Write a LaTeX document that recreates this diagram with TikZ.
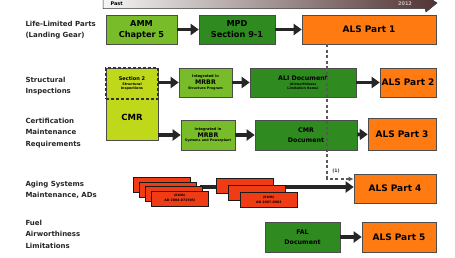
\documentclass[tikz,border=0pt]{standalone}
\usepackage{fontspec}
\setmainfont{DejaVu Sans}
\usetikzlibrary{arrows.meta}
\definecolor{lgreen}{HTML}{78BC2A}
\definecolor{dgreen}{HTML}{2F8B20}
\definecolor{ygreen}{HTML}{C0D81A}
\definecolor{orng}{HTML}{FF7A10}
\definecolor{redbx}{HTML}{F03C14}
\newcommand{\fs}[1]{\fontsize{#1}{#1}\selectfont}
\tikzset{
  bx/.style={draw=black!70, line width=0.6pt, inner sep=0pt, align=center, font=\bfseries\fontsize{3.5}{4}\selectfont, text=black},
  lg/.style={bx, fill=lgreen},
  dg/.style={bx, fill=dgreen},
  og/.style={bx, fill=orng, font=\bfseries\fs{9}},
  rb/.style={bx, fill=redbx, draw=black!90, minimum width=57pt, minimum height=15pt},
  blk/.style={draw=black!85, line width=3.6pt, -{Triangle[length=8pt,width=11pt]}},
  dsh/.style={draw=black!65, line width=1.4pt, dash pattern=on 3pt off 2.5pt},
  lab/.style={anchor=west, align=left, font=\bfseries\fontsize{7}{11.5}\selectfont, text=black!85}
}
\begin{document}
\begin{tikzpicture}[x=1pt,y=-1pt]
\useasboundingbox (0,0) rectangle (455,257);
% timeline
\shade[left color=white!92!gray, right color=black!80!red!60!gray, draw=black!80, line width=0.5pt]
  (103,-3) -- (425,-3) -- (425,-5) -- (437,3) -- (426,12) -- (425,8.5) -- (103,8.5) -- cycle;
\node[anchor=west, font=\bfseries\fs{5}, text=black] (past) at (107,4) {Past};
\node[font=\bfseries\fs{5}, text=black!25] (yr) at (405,3.5) {2012};
% left labels
\node[lab] (l1) at (22,30) {Life-Limited Parts\\(Landing Gear)};
\node[lab] (l2) at (22,86) {Structural\\Inspections};
\node[lab] (l3) at (22,133) {Certification\\Maintenance\\Requirements};
\node[lab] (l4) at (22,190) {Aging Systems\\Maintenance, ADs};
\node[lab] (l5) at (22,234) {Fuel\\Airworthiness\\Limitations};
% row 1
\node[lg, minimum width=71pt, minimum height=29pt, font=\bfseries\fontsize{8.2}{11}\selectfont] (amm) at (141.5,29.5) {AMM\\Chapter 5};
\node[dg, minimum width=76pt, minimum height=29pt, font=\bfseries\fontsize{8.2}{11}\selectfont] (mpd) at (237,29.5) {MPD\\Section 9-1};
\node[og, minimum width=134pt, minimum height=29pt] (als1) at (369,29.5) {ALS Part 1};
% row 2/3 CMR block
\node[bx, fill=ygreen, minimum width=52pt, minimum height=72pt] (cmr) at (132,104) {};
\node[bx, draw=black!80, line width=1.3pt, dash pattern=on 3pt off 2pt, minimum width=52pt, minimum height=31pt] (sec2) at (132,83.5)
  {{\fs{5}Section 2}\\[0.5pt]{\fs{3.4}Structural}\\{\fs{3.4}Inspections}};
\node[font=\bfseries\fs{8.5}, text=black] (cmrt) at (132,117) {CMR};
\node[lg, minimum width=53pt, minimum height=29pt] (mrbr1) at (205.5,82.5)
  {{\fs{3.6}Integrated in}\\[0.5pt]{\fs{6.3}MRBR}\\[0.3pt]{\fs{3.3}Structure Program}};
\node[dg, minimum width=106pt, minimum height=29pt] (ali) at (303,82.5)
  {{\fs{6.3}ALI Document}\\[1pt]{\fs{3.2}(Airworthiness}\\{\fs{3.2}Limitation Items)}};
\node[og, minimum width=56pt, minimum height=29pt] (als2) at (408,82.5) {ALS Part 2};
% row 3
\node[lg, minimum width=54pt, minimum height=30pt] (mrbr2) at (208,135)
  {{\fs{3.6}Integrated in}\\[0.5pt]{\fs{6.3}MRBR}\\[0.3pt]{\fs{3.3}Systems and Powerplant}};
\node[dg, minimum width=102pt, minimum height=30pt, font=\bfseries\fontsize{6.3}{9.5}\selectfont] (cmrdoc) at (306,135) {CMR\\Document};
\node[og, minimum width=68pt, minimum height=32pt] (als3) at (402,134) {ALS Part 3};
% row 4
\node[og, minimum width=82pt, minimum height=29pt] (als4) at (395,188.5) {ALS Part 4};
\coordinate (agst) at (200,187);
\draw[blk] (agst) -- (als4.west |- agst);
\node[rb, anchor=north west] (r1a) at (133,177) {};
\node[rb, anchor=north west] (r1b) at (139,181.5) {};
\node[rb, anchor=north west] (r1c) at (145,186) {};
\node[rb, anchor=north west] (r1d) at (151,190.5) {{\fs{3}(EWIS)}\\[0.8pt]{\fs{3.2}AD 2004-0729(R)}};
\node[rb, anchor=north west] (r2a) at (216,178) {};
\node[rb, anchor=north west] (r2b) at (228,185) {};
\node[rb, anchor=north west] (r2c) at (240,192) {{\fs{3}(EWIS)}\\[0.8pt]{\fs{3.2}AD 2007-0003}};
% row 5
\node[dg, minimum width=75pt, minimum height=30pt, font=\bfseries\fontsize{6.3}{9.5}\selectfont] (fal) at (302.5,237) {FAL\\Document};
\node[og, minimum width=74pt, minimum height=30pt] (als5) at (399,237) {ALS Part 5};
% arrows
\draw[blk] (amm) -- (mpd);
\draw[blk] (mpd) -- (als1);
\draw[blk] (mrbr1.west -| cmr.east) -- (mrbr1.west);
\draw[blk] (mrbr1) -- (ali);
\draw[blk] (ali) -- (als2);
\draw[blk] (mrbr2.west -| cmr.east) -- (mrbr2.west);
\draw[blk] (mrbr2) -- (cmrdoc);
\draw[blk] (cmrdoc) -- (als3);
\draw[blk] (fal) -- (als5);
% dashed link
\coordinate (dturn) at (327,179);
\draw[dsh, -{Latex[length=5pt,width=5pt]}] (als1.south -| dturn) -- (dturn) -- (als4.west |- dturn);
\node[font=\bfseries\fs{4.6}, text=black!80] (one) at (336,171) {(1)};
\end{tikzpicture}
\end{document}
